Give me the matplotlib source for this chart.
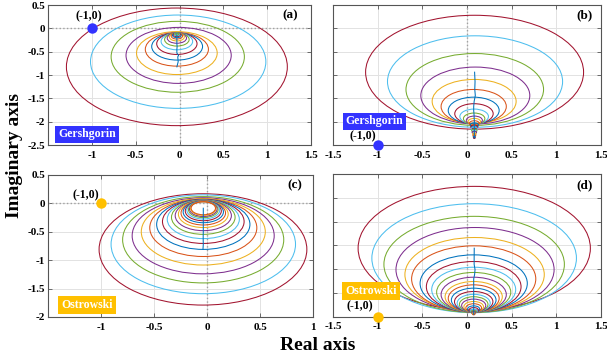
import matplotlib
matplotlib.use('Agg')
import matplotlib.pyplot as plt
from matplotlib.patches import Circle

plt.rcParams['font.family'] = ['Liberation Serif', 'DejaVu Serif']
plt.rcParams['font.weight'] = 'bold'
plt.rcParams['axes.unicode_minus'] = False

# MATLAB colour order, listed from the outermost circle inwards
RING_COLORS = ['#A2142F', '#4DBEEE', '#77AC30', '#7E2F8E', '#EDB120', '#D95319', '#0072BD']
CENTER_COLOR = '#0072BD'

# ---------------- data ----------------
# (a) Gershgorin circles: centre x, centre y, radius (outer -> inner)
a_cx = [-0.03, -0.015, -0.02, -0.01, -0.03, -0.03, -0.027, -0.03, -0.03, -0.03,
        -0.03, -0.03, -0.03, -0.03, -0.03, -0.03, -0.03]
a_cy = [-0.825, -0.715, -0.61, -0.58, -0.53, -0.45, -0.39, -0.33, -0.28, -0.24,
        -0.21, -0.185, -0.165, -0.15, -0.14, -0.13, -0.122]
a_r = [1.26, 1.00, 0.76, 0.60, 0.46, 0.36, 0.29, 0.23, 0.18, 0.14,
       0.11, 0.085, 0.065, 0.05, 0.038, 0.029, 0.022]

# (b) Gershgorin circles
b_cx = [0.085, 0.09, 0.087, 0.093, 0.08, 0.075, 0.075, 0.078, 0.08, 0.08,
        0.082, 0.082, 0.082, 0.082, 0.082, 0.082, 0.082, 0.082, 0.082, 0.082,
        0.082, 0.082]
b_cy = [1.56, 1.36, 1.19, 1.06, 0.935, 0.825, 0.74, 0.67, 0.61, 0.565,
        0.53, 0.50, 0.465, 0.43, 0.39, 0.35, 0.31, 0.27, 0.235, 0.20,
        0.17, 0.15]
b_r = [1.22, 0.98, 0.77, 0.61, 0.47, 0.365, 0.285, 0.215, 0.16, 0.12,
       0.09, 0.07, 0.055, 0.045, 0.04, 0.035, 0.03, 0.025, 0.02, 0.016,
       0.012, 0.009]

# (c) Ostrowski circles
c_cx = [-0.038, -0.035, -0.036, -0.036, -0.035, -0.035, -0.035, -0.035, -0.035, -0.035,
        -0.035, -0.035, -0.035, -0.035, -0.035, -0.035, -0.035, -0.035, -0.035, -0.035]
c_cy = [-0.81, -0.72, -0.64, -0.57, -0.50, -0.43, -0.37, -0.32, -0.28, -0.245,
        -0.215, -0.19, -0.17, -0.15, -0.135, -0.12, -0.11, -0.10, -0.09, -0.085]
c_r = [0.98, 0.87, 0.76, 0.67, 0.585, 0.505, 0.44, 0.385, 0.34, 0.30,
       0.265, 0.235, 0.21, 0.19, 0.17, 0.155, 0.14, 0.13, 0.12, 0.115]

# (d) Ostrowski circles
d_cx = [0.081, 0.08, 0.08, 0.09, 0.085, 0.075, 0.075, 0.075, 0.075, 0.075,
        0.075, 0.075, 0.075, 0.075, 0.075, 0.075, 0.075, 0.075, 0.075, 0.075,
        0.075, 0.075, 0.075, 0.075, 0.075, 0.075, 0.075]
d_cy = [1.44, 1.23, 1.10, 0.99, 0.885, 0.795, 0.70, 0.63, 0.57, 0.515,
        0.465, 0.42, 0.385, 0.35, 0.315, 0.285, 0.26, 0.235, 0.21, 0.185,
        0.16, 0.14, 0.12, 0.10, 0.08, 0.065, 0.05]
d_r = [1.30, 1.145, 1.01, 0.885, 0.78, 0.695, 0.60, 0.53, 0.47, 0.415,
       0.365, 0.32, 0.285, 0.25, 0.215, 0.185, 0.16, 0.135, 0.11, 0.088,
       0.068, 0.052, 0.04, 0.03, 0.022, 0.016, 0.011]

critical_point = (-1.0, 0.0)
critical_text = '(-1,0)'

x_ticks_ab = [-1.5, -1, -0.5, 0, 0.5, 1, 1.5]
x_ticklabels_a = ['', '-1', '-0.5', '0', '0.5', '1', '1.5']
x_ticklabels_bd = ['-1.5', '-1', '-0.5', '0', '0.5', '1', '1.5']
x_ticks_c = [-1.5, -1, -0.5, 0, 0.5, 1]
x_ticklabels_c = ['', '-1', '-0.5', '0', '0.5', '1']
y_ticks_a = [-2.5, -2, -1.5, -1, -0.5, 0, 0.5]
y_ticklabels_a = ['-2.5', '-2', '-1.5', '-1', '-0.5', '0', '0.5']
y_ticks_c = [-2, -1.5, -1, -0.5, 0, 0.5]
y_ticklabels_c = ['-2', '-1.5', '-1', '-0.5', '0', '0.5']
y_ticks_bd = [0, 0.5, 1, 1.5, 2, 2.5, 3]

GERSH_COLOR = '#3333FF'
OSTRO_COLOR = '#FFC000'

W, H = 607, 362
fig = plt.figure(figsize=(W / 100, H / 100), dpi=100)


def ax_rect(l, r, t, b):
    return [l / W, 1 - b / H, (r - l) / W, (b - t) / H]


panels = [
    dict(rect=ax_rect(48, 311, 5, 145), cx=a_cx, cy=a_cy, r=a_r, xlim=(-1.5, 1.5), ylim=(-2.5, 0.5),
         xt=x_ticks_ab, xtl=x_ticklabels_a, yt=y_ticks_a, ytl=y_ticklabels_a, hzero=True,
         label='(a)', lab_pos=(0.92, 0.93), box='Gershgorin', box_col=GERSH_COLOR, box_pos=(0.148, 0.075),
         txt_off=(-2, 9)),
    dict(rect=ax_rect(333, 601, 5, 145), cx=b_cx, cy=b_cy, r=b_r, xlim=(-1.5, 1.5), ylim=(0, 3),
         xt=x_ticks_ab, xtl=x_ticklabels_bd, yt=y_ticks_bd, ytl=None, hzero=False,
         label='(b)', lab_pos=(0.938, 0.925), box='Gershgorin', box_col=GERSH_COLOR, box_pos=(0.155, 0.168),
         txt_off=(-11, 6)),
    dict(rect=ax_rect(48, 313, 175, 317), cx=c_cx, cy=c_cy, r=c_r, xlim=(-1.5, 1.0), ylim=(-2, 0.5),
         xt=x_ticks_c, xtl=x_ticklabels_c, yt=y_ticks_c, ytl=y_ticklabels_c, hzero=True,
         label='(c)', lab_pos=(0.93, 0.926), box='Ostrowski', box_col=OSTRO_COLOR, box_pos=(0.147, 0.083),
         txt_off=(-11, 6)),
    dict(rect=ax_rect(333, 601, 174, 316.7), cx=d_cx, cy=d_cy, r=d_r, xlim=(-1.5, 1.5), ylim=(0, 3),
         xt=x_ticks_ab, xtl=x_ticklabels_bd, yt=y_ticks_bd, ytl=None, hzero=False,
         label='(d)', lab_pos=(0.94, 0.919), box='Ostrowski', box_col=OSTRO_COLOR, box_pos=(0.142, 0.177),
         txt_off=(-13, 7.5)),
]

for p in panels:
    ax = fig.add_axes(p['rect'])
    ax.set_xlim(*p['xlim'])
    ax.set_ylim(*p['ylim'])
    ax.set_xticks(p['xt'])
    ax.set_xticklabels(p['xtl'])
    ax.set_yticks(p['yt'])
    if p['ytl'] is None:
        ax.set_yticklabels([])
    else:
        ax.set_yticklabels(p['ytl'])
    ax.grid(True, color='#e2e2e2', linewidth=0.7, zorder=0)
    ax.set_axisbelow(True)
    ax.axvline(0, color='#a0a0a0', linestyle=':', linewidth=1.0, zorder=1)
    if p['hzero']:
        ax.axhline(0, color='#a0a0a0', linestyle=':', linewidth=1.0, zorder=1)
    for s in ax.spines.values():
        s.set_color('#555555')
        s.set_linewidth(0.8)
    ax.tick_params(axis='both', which='major', direction='in', length=3, width=0.6,
                   color='#555555', labelcolor='black', labelsize=8, top=True, right=True)
    ax.tick_params(axis='x', pad=4)
    ax.tick_params(axis='y', pad=2)
    for lbl in ax.get_xticklabels() + ax.get_yticklabels():
        lbl.set_fontweight('bold')

    for i, (x0, y0, rr) in enumerate(zip(p['cx'], p['cy'], p['r'])):
        ax.add_patch(Circle((x0, y0), rr, fill=False, edgecolor=RING_COLORS[i % 7],
                            linewidth=0.75, zorder=2))
    ax.plot(p['cx'], p['cy'], color=CENTER_COLOR, linewidth=0.75, zorder=3)

    ax.plot([critical_point[0]], [critical_point[1]], 'o', color=p['box_col'], markersize=7.5,
            markeredgewidth=0, clip_on=False, zorder=5)
    ax.annotate(critical_text, xy=critical_point, xytext=p['txt_off'], textcoords='offset points',
                ha='center', va='center', fontsize=8.5, fontweight='bold', annotation_clip=False, zorder=6)
    ax.text(p['lab_pos'][0], p['lab_pos'][1], p['label'], transform=ax.transAxes,
            ha='center', va='center', fontsize=9.5, fontweight='bold', zorder=6)
    ax.text(p['box_pos'][0], p['box_pos'][1], p['box'], transform=ax.transAxes,
            ha='center', va='center', fontsize=8.5, fontweight='bold', color='white', zorder=6,
            bbox=dict(boxstyle='square,pad=0.25', facecolor=p['box_col'], edgecolor='none'))

fig.text(15 / W, 1 - 156 / H, 'Imaginary axis', rotation=90, ha='center', va='center',
         fontsize=14, fontweight='bold')
fig.text(318 / W, 1 - 346 / H, 'Real axis', ha='center', va='center', fontsize=14, fontweight='bold')

fig.savefig('out.png', dpi=100, facecolor='white')
